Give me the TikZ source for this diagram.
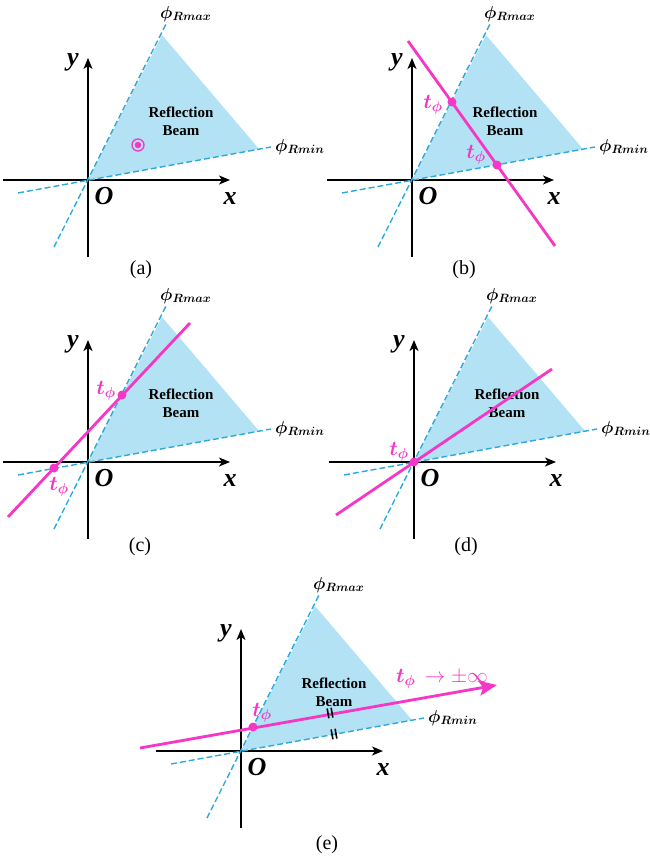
\documentclass[tikz,border=0pt]{standalone}
\usepackage{amsmath,amssymb}
\usepackage{fontspec}
\setmainfont{Liberation Serif}
\usetikzlibrary{arrows.meta}
\definecolor{beamblue}{RGB}{178,226,243}
\definecolor{dashblue}{RGB}{45,170,220}
\definecolor{tmag}{RGB}{245,55,200}

\begin{document}
\begin{tikzpicture}[x=1pt,y=-1pt,
  xyaxis/.style={line width=1.8pt,-{Stealth[length=11pt,width=9pt,inset=3pt]}},
  rayline/.style={dashblue,line width=1.4pt,dash pattern=on 6pt off 3pt},
  beam/.style={fill=beamblue},
  beamtxt/.style={anchor=center,inner sep=0pt,align=center,font=\fontsize{15}{18}\selectfont\bfseries},
  axlbl/.style={anchor=center,inner sep=0pt,font=\fontsize{26}{26}\selectfont\bfseries\itshape},
  philbl/.style={anchor=west,inner sep=0pt,font=\fontsize{18}{18}\selectfont\boldmath},
  tline/.style={tmag,line width=2.8pt},
  tdot/.style={circle,fill=tmag,inner sep=0pt,minimum size=9pt},
  tlbl/.style={anchor=center,inner sep=0pt,text=tmag,font=\fontsize{21}{21}\selectfont\boldmath},
  captxt/.style={anchor=center,inner sep=0pt,font=\fontsize{20}{20}\selectfont},
  parmark/.style={line width=1.6pt}]
\path[use as bounding box] (0,0) rectangle (649,859);
% (a)
\fill[beam] (88,180) -- (162,35) -- (259,149) -- cycle;
\draw[xyaxis] (3,180) -- (230,180);
\draw[xyaxis] (88,257) -- (88,58);
\draw[rayline] (54,247) -- (167,22);
\draw[rayline] (18,193) -- (271,147);
\node[beamtxt] (beama) at (181,121) {Reflection\\Beam};
\node[axlbl] (oa) at (104,196) {O};
\node[axlbl] (xa) at (230,199) {x};
\node[axlbl] (ya) at (73,62) {y};
\node[philbl] (maxa) at (160,14) {$\phi_{Rmax}$};
\node[philbl] (mina) at (275,147) {$\phi_{Rmin}$};
\node[circle,draw=tmag,line width=1.3pt,minimum size=12pt,inner sep=0pt] (tgt) at (138,145) {};
\node[tdot,minimum size=6.5pt] (tgtc) at (138,145) {};
\node[captxt] (capa) at (141,270) {(a)};
% (b)
\fill[beam] (412,180) -- (486,35) -- (583,149) -- cycle;
\draw[xyaxis] (327,180) -- (554,180);
\draw[xyaxis] (412,257) -- (412,58);
\draw[rayline] (378,247) -- (491,22);
\draw[rayline] (342,193) -- (595,147);
\node[beamtxt] (beamb) at (505,121) {Reflection\\Beam};
\node[axlbl] (ob) at (428,196) {O};
\node[axlbl] (xb) at (554,199) {x};
\node[axlbl] (yb) at (397,62) {y};
\node[philbl] (maxb) at (484,14) {$\phi_{Rmax}$};
\node[philbl] (minb) at (599,147) {$\phi_{Rmin}$};
\coordinate (lb0) at (408,41);
\coordinate (lb1) at (555,246);
\draw[tline] (lb0) -- (lb1);
\node[tdot] (tb1) at (452,102) {};
\node[tdot] (tb2) at (497,165) {};
\node[tlbl] (ltb1) at (433,105) {$t_\phi$};
\node[tlbl] (ltb2) at (476,155) {$t_\phi$};
\node[captxt] (capb) at (464,270) {(b)};
% (c)
\fill[beam] (88,462) -- (162,317) -- (259,431) -- cycle;
\draw[xyaxis] (3,462) -- (230,462);
\draw[xyaxis] (88,539) -- (88,340);
\draw[rayline] (54,529) -- (167,304);
\draw[rayline] (18,475) -- (271,429);
\node[beamtxt] (beamc) at (181,403) {Reflection\\Beam};
\node[axlbl] (oc) at (104,478) {O};
\node[axlbl] (xc) at (230,481) {x};
\node[axlbl] (yc) at (73,344) {y};
\node[philbl] (maxc) at (160,296) {$\phi_{Rmax}$};
\node[philbl] (minc) at (275,429) {$\phi_{Rmin}$};
\coordinate (lc0) at (8,517);
\coordinate (lc1) at (190,323);
\draw[tline] (lc0) -- (lc1);
\node[tdot] (tc1) at (54,468) {};
\node[tdot] (tc2) at (122,395) {};
\node[tlbl] (ltc1) at (59,487) {$t_\phi$};
\node[tlbl] (ltc2) at (106,391) {$t_\phi$};
\node[captxt] (capc) at (140,547) {(c)};
% (d)
\fill[beam] (414,462) -- (488,317) -- (585,431) -- cycle;
\draw[xyaxis] (329,462) -- (556,462);
\draw[xyaxis] (414,539) -- (414,340);
\draw[rayline] (380,529) -- (493,304);
\draw[rayline] (344,475) -- (597,429);
\node[beamtxt] (beamd) at (507,403) {Reflection\\Beam};
\node[axlbl] (od) at (430,478) {O};
\node[axlbl] (xd) at (556,481) {x};
\node[axlbl] (yd) at (399,344) {y};
\node[philbl] (maxd) at (486,296) {$\phi_{Rmax}$};
\node[philbl] (mind) at (601,429) {$\phi_{Rmin}$};
\coordinate (ld0) at (336,515);
\coordinate (ld1) at (552,369);
\draw[tline] (ld0) -- (ld1);
\node[tdot] (td1) at (414,462) {};
\node[tlbl] (ltd1) at (399,452) {$t_\phi$};
\node[captxt] (capd) at (466,547) {(d)};
% (e)
\fill[beam] (241,751) -- (315,606) -- (412,720) -- cycle;
\draw[xyaxis] (156,751) -- (383,751);
\draw[xyaxis] (241,828) -- (241,629);
\draw[rayline] (207,818) -- (320,593);
\draw[rayline] (171,764) -- (424,718);
\node[beamtxt] (beame) at (334,692) {Reflection\\Beam};
\node[axlbl] (oe) at (257,767) {O};
\node[axlbl] (xe) at (383,770) {x};
\node[axlbl] (ye) at (226,633) {y};
\node[philbl] (maxe) at (313,585) {$\phi_{Rmax}$};
\node[philbl] (mine) at (428,718) {$\phi_{Rmin}$};
\coordinate (le0) at (140,748);
\coordinate (le1) at (497,685);
\draw[tline,-{Stealth[length=18pt,width=15pt,inset=4pt]}] (le0) -- (le1);
\node[tdot] (te1) at (253,727) {};
\draw[parmark,shift={(330,713)},rotate=10] (-2,-5) -- (-2,5) (2,-5) -- (2,5);
\draw[parmark,shift={(334,734)},rotate=10] (-2,-5) -- (-2,5) (2,-5) -- (2,5);
\node[tlbl] (lte1) at (262,713) {$t_\phi$};
\node[tlbl,font=\fontsize{21}{21}\selectfont] (lte2) at (442,679) {$\boldsymbol{t_\phi}\,\rightarrow\pm\infty$};
\node[captxt] (cape) at (327,845) {(e)};
\end{tikzpicture}
\end{document}
